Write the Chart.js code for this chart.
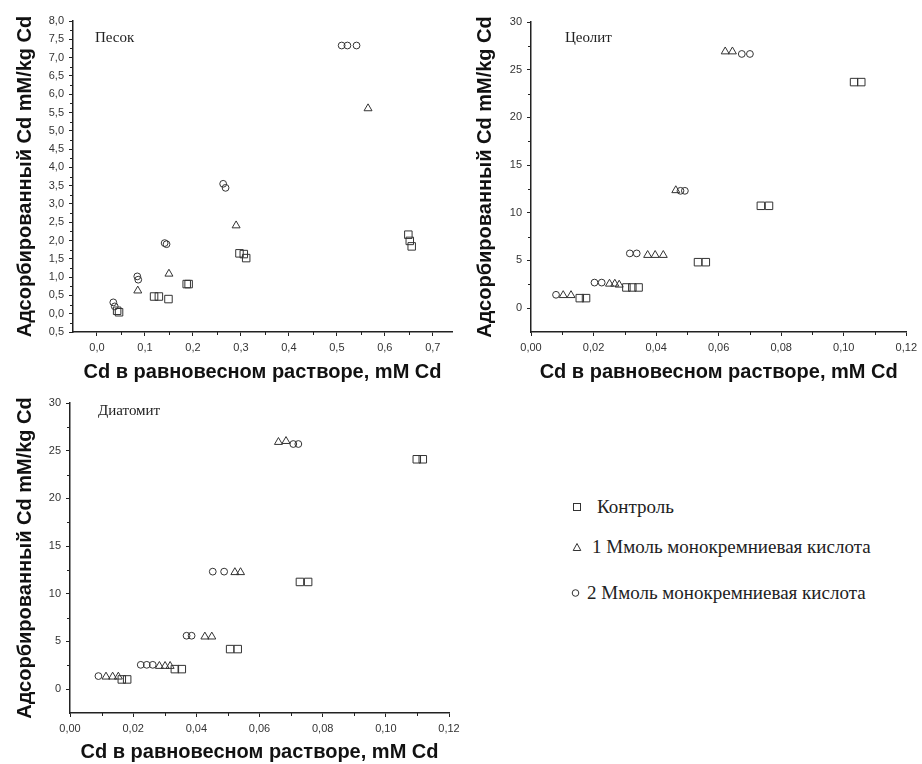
<!DOCTYPE html>
<html lang="ru">
<head>
<meta charset="utf-8">
<title>Адсорбция Cd</title>
<script src="https://cdn.jsdelivr.net/npm/chart.js@4.4.1/dist/chart.umd.min.js"></script>
<style>
  html, body { margin: 0; padding: 0; background: #fff; }
  #page { position: relative; width: 922px; height: 764px; overflow: hidden; }
  #page canvas { position: absolute; }
  .tag { position: absolute; font-family: "Liberation Serif", "Times New Roman", serif;
         font-size: 15px; line-height: 15px; color: #222; white-space: nowrap; }
  .key { position: absolute; font-family: "Liberation Serif", "Times New Roman", serif;
         font-size: 19px; line-height: 19px; color: #222; white-space: nowrap; }
  .key svg { position: absolute; top: 5px; }
</style>
</head>
<body>
<div id="page">
  <canvas id="sand" width="465" height="385" style="left:0;top:0"></canvas>
  <canvas id="zeolite" width="462" height="385" style="left:460px;top:0"></canvas>
  <canvas id="diatomite" width="465" height="379" style="left:0;top:385px"></canvas>

  <div class="tag" style="left:95px;top:30px">Песок</div>
  <div class="tag" style="left:565px;top:30px">Цеолит</div>
  <div class="tag" style="left:98px;top:403px">Диатомит</div>

  <div class="key" style="left:572px;top:497px">
    <svg width="10" height="10"><rect x="1.5" y="1.5" width="7" height="7" fill="none" stroke="#333"/></svg>
    <span style="margin-left:25px">Контроль</span>
  </div>
  <div class="key" style="left:572px;top:537px">
    <svg width="10" height="10"><path d="M5 1.5 L8.8 8.5 L1.2 8.5 Z" fill="none" stroke="#333"/></svg>
    <span style="margin-left:20px">1 Ммоль монокремниевая кислота</span>
  </div>
  <div class="key" style="left:571px;top:583px">
    <svg width="10" height="10"><circle cx="4.5" cy="5" r="3.3" fill="none" stroke="#333"/></svg>
    <span style="margin-left:16px">2 Ммоль монокремниевая кислота</span>
  </div>
</div>

<script>
// adsorbed Cd vs equilibrium Cd, [x, y] pairs per treatment
const sandControl = [[0.042, 0.08], [0.046, 0.04], [0.119, 0.47], [0.129, 0.47], [0.149, 0.40],
  [0.187, 0.81], [0.191, 0.81], [0.297, 1.65], [0.306, 1.63], [0.311, 1.52],
  [0.649, 2.16], [0.652, 1.99], [0.656, 1.84]];
const sandSi1 = [[0.085, 0.63], [0.150, 1.09], [0.290, 2.41], [0.565, 5.61]];
const sandSi2 = [[0.034, 0.31], [0.037, 0.20], [0.084, 1.02], [0.086, 0.93], [0.141, 1.93], [0.145, 1.90],
  [0.263, 3.55], [0.268, 3.44], [0.510, 7.33], [0.522, 7.33], [0.541, 7.33]];

const zeoControl = [[0.0156, 1.05], [0.0176, 1.05], [0.0305, 2.17], [0.0324, 2.17], [0.0344, 2.17],
  [0.0534, 4.82], [0.0559, 4.82], [0.0735, 10.73], [0.0761, 10.73], [0.1033, 23.7], [0.1056, 23.7]];
const zeoSi1 = [[0.0103, 1.35], [0.0128, 1.35], [0.0251, 2.55], [0.0268, 2.55], [0.0282, 2.45],
  [0.0373, 5.56], [0.0397, 5.56], [0.0423, 5.56], [0.0463, 12.35], [0.0621, 26.9], [0.0644, 26.9]];
const zeoSi2 = [[0.0080, 1.4], [0.0203, 2.68], [0.0226, 2.68], [0.0316, 5.74], [0.0338, 5.74],
  [0.0478, 12.3], [0.0492, 12.3], [0.0674, 26.65], [0.0700, 26.65]];

const diaControl = [[0.0164, 1.02], [0.0181, 1.02], [0.0332, 2.1], [0.0354, 2.1], [0.0507, 4.2],
  [0.0531, 4.2], [0.0728, 11.24], [0.0754, 11.24], [0.1098, 24.1], [0.1117, 24.1]];
const diaSi1 = [[0.0114, 1.3], [0.0135, 1.3], [0.0153, 1.3], [0.0283, 2.42], [0.0301, 2.42], [0.0317, 2.42],
  [0.0427, 5.5], [0.0449, 5.5], [0.0522, 12.25], [0.0540, 12.25], [0.0660, 25.9], [0.0684, 26.0]];
const diaSi2 = [[0.0090, 1.37], [0.0224, 2.55], [0.0243, 2.55], [0.0262, 2.55], [0.0369, 5.6], [0.0385, 5.6],
  [0.0452, 12.32], [0.0488, 12.32], [0.0707, 25.7], [0.0723, 25.7]];

// axis ticks
const sandXTicks = [0, 0.1, 0.2, 0.3, 0.4, 0.5, 0.6, 0.7];
const sandXLabels = ['0,0', '0,1', '0,2', '0,3', '0,4', '0,5', '0,6', '0,7'];
const sandXMinor = [0.05, 0.15, 0.25, 0.35, 0.45, 0.55, 0.65];
const sandYTicks = [-0.5, 0, 0.5, 1, 1.5, 2, 2.5, 3, 3.5, 4, 4.5, 5, 5.5, 6, 6.5, 7, 7.5, 8];
const sandYLabels = ['0,5', '0,0', '0,5', '1,0', '1,5', '2,0', '2,5', '3,0', '3,5', '4,0', '4,5',
  '5,0', '5,5', '6,0', '6,5', '7,0', '7,5', '8,0'];
const sandYMinor = [-0.25, 0.25, 0.75, 1.25, 1.75, 2.25, 2.75, 3.25, 3.75, 4.25, 4.75, 5.25,
  5.75, 6.25, 6.75, 7.25, 7.75];

const mineralXTicks = [0, 0.02, 0.04, 0.06, 0.08, 0.10, 0.12];
const mineralXLabels = ['0,00', '0,02', '0,04', '0,06', '0,08', '0,10', '0,12'];
const mineralXMinor = [0.01, 0.03, 0.05, 0.07, 0.09, 0.11];
const mineralYTicks = [0, 5, 10, 15, 20, 25, 30];
const mineralYLabels = ['0', '5', '10', '15', '20', '25', '30'];
const mineralYMinor = [2.5, 7.5, 12.5, 17.5, 22.5, 27.5];

const seriesNames = ['Контроль', '1 Ммоль монокремниевая кислота', '2 Ммоль монокремниевая кислота'];
const xTitle = 'Cd в равновесном растворе, mM Cd';
const yTitle = 'Адсорбированный Cd mM/kg Cd';

const INK = '#222';
const SANS = '"Liberation Sans", Arial, sans-serif';

// short unlabeled ticks between the labeled ones
const minorTicks = {
  id: 'minorTicks',
  afterDraw(chart, args, opts) {
    const ctx = chart.ctx;
    ctx.save();
    ctx.strokeStyle = INK;
    ctx.lineWidth = 1;
    const xs = chart.scales.x, ys = chart.scales.y;
    (opts.x || []).forEach(v => {
      const p = Math.round(xs.getPixelForValue(v)) + 0.5;
      ctx.beginPath();
      ctx.moveTo(p, xs.top);
      ctx.lineTo(p, xs.top + 3);
      ctx.stroke();
    });
    (opts.y || []).forEach(v => {
      const p = Math.round(ys.getPixelForValue(v)) + 0.5;
      ctx.beginPath();
      ctx.moveTo(ys.right, p);
      ctx.lineTo(ys.right - 3, p);
      ctx.stroke();
    });
    ctx.restore();
  }
};

function pointSet(label, data, style, radius) {
  return {
    label: label,
    data: data.map(([x, y]) => ({ x, y })),
    pointStyle: style,
    pointRadius: radius,
    pointHoverRadius: radius,
    borderColor: '#333',
    backgroundColor: 'rgba(0,0,0,0)',
    borderWidth: 1,
    showLine: false
  };
}

function axis(cfg) {
  return {
    type: 'linear',
    min: cfg.min,
    max: cfg.max,
    afterBuildTicks: (scale) => { scale.ticks = cfg.ticks.map(v => ({ value: v })); },
    afterFit: (scale) => {
      if (cfg.width) scale.width = cfg.width;
      if (cfg.height) scale.height = cfg.height;
    },
    ticks: {
      autoSkip: false,
      maxRotation: 0,
      padding: 5,
      color: '#333',
      font: { family: SANS, size: 11 },
      callback: (value, i) => cfg.labels[i]
    },
    grid: { display: true, drawOnChartArea: false, drawTicks: true, tickLength: 4, tickColor: INK, tickWidth: 1 },
    border: { display: true, color: INK, width: 1.5 },
    title: {
      display: true,
      text: cfg.title,
      color: '#111',
      font: { family: SANS, size: 20, weight: 'bold' },
      padding: cfg.titlePad
    }
  };
}

function makePanel(id, p) {
  new Chart(document.getElementById(id), {
    type: 'scatter',
    data: {
      datasets: [
        pointSet(seriesNames[0], p.control, 'rect', 5.3),
        pointSet(seriesNames[1], p.si1, 'triangle', 4.6),
        pointSet(seriesNames[2], p.si2, 'circle', 3.4)
      ]
    },
    options: {
      responsive: false,
      animation: false,
      layout: { padding: p.padding },
      plugins: {
        legend: { display: false },
        tooltip: { enabled: false },
        minorTicks: { x: p.xMinor, y: p.yMinor }
      },
      scales: {
        x: axis({ min: p.xMin, max: p.xMax, ticks: p.xTicks, labels: p.xLabels, height: p.xHeight,
                  title: xTitle, titlePad: { top: 0, bottom: p.xTitleGap } }),
        y: axis({ min: p.yMin, max: p.yMax, ticks: p.yTicks, labels: p.yLabels, width: p.yWidth,
                  title: yTitle, titlePad: { top: 13, bottom: 0 } })
      }
    },
    plugins: [minorTicks]
  });
}

makePanel('sand', {
  control: sandControl, si1: sandSi1, si2: sandSi2,
  xMin: -0.05, xMax: 0.74, yMin: -0.5, yMax: 8,
  xTicks: sandXTicks, xLabels: sandXLabels, xMinor: sandXMinor,
  yTicks: sandYTicks, yLabels: sandYLabels, yMinor: sandYMinor,
  padding: { top: 21, right: 13, left: 0, bottom: 0 },
  yWidth: 73, xHeight: 53, xTitleGap: 1
});

makePanel('zeolite', {
  control: zeoControl, si1: zeoSi1, si2: zeoSi2,
  xMin: 0, xMax: 0.12, yMin: -2.5, yMax: 30,
  xTicks: mineralXTicks, xLabels: mineralXLabels, xMinor: mineralXMinor,
  yTicks: mineralYTicks, yLabels: mineralYLabels, yMinor: mineralYMinor,
  padding: { top: 22, right: 13, left: 0, bottom: 0 },
  yWidth: 71, xHeight: 53, xTitleGap: 1
});

makePanel('diatomite', {
  control: diaControl, si1: diaSi1, si2: diaSi2,
  xMin: 0, xMax: 0.12, yMin: -2.5, yMax: 30,
  xTicks: mineralXTicks, xLabels: mineralXLabels, xMinor: mineralXMinor,
  yTicks: mineralYTicks, yLabels: mineralYLabels, yMinor: mineralYMinor,
  padding: { top: 18, right: 16, left: 0, bottom: 0 },
  yWidth: 70, xHeight: 51, xTitleGap: 0
});
</script>
</body>
</html>
